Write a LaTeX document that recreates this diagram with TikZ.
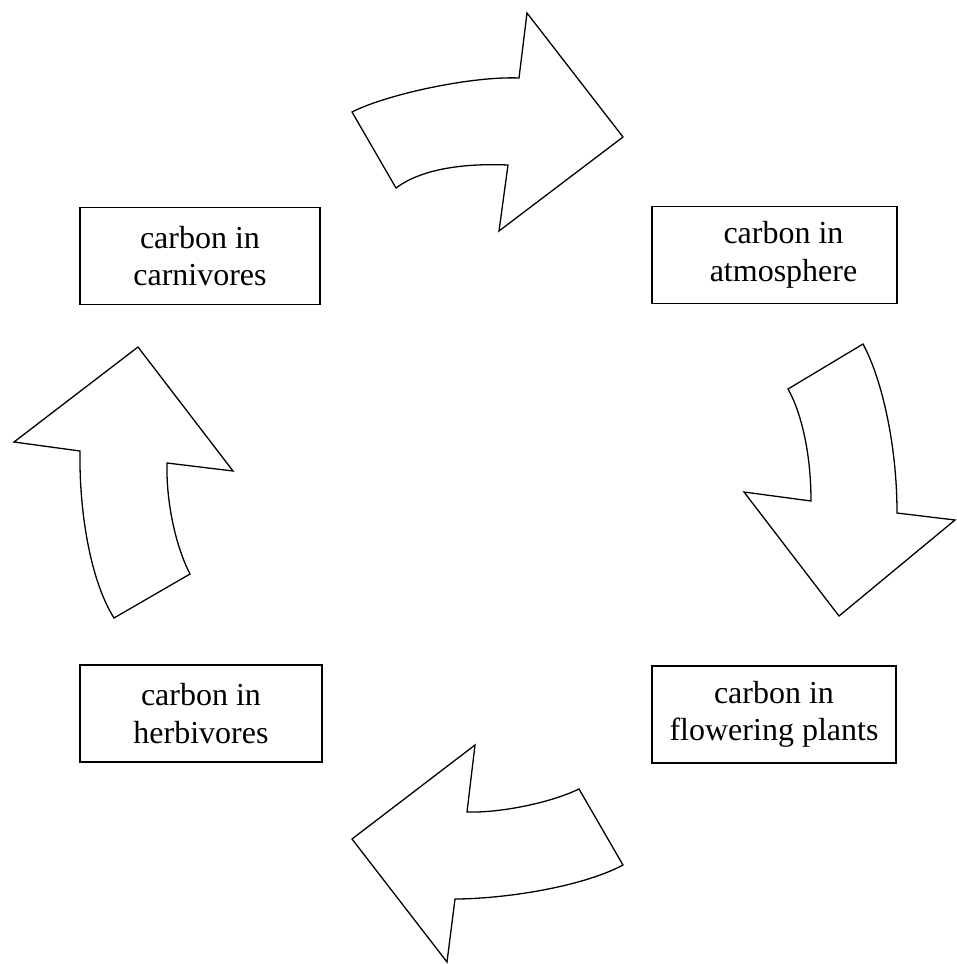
\documentclass[tikz,border=0pt]{standalone}
\usepackage{fontspec}
\setmainfont{Liberation Serif}
\begin{document}
\begin{tikzpicture}[x=1pt,y=-1pt,
  box/.style={draw, line width=1.4pt, minimum width=#1, minimum height=97pt, align=center, inner sep=0pt,
    font=\fontsize{32}{37.5}\selectfont},
  box/.default=242pt,
  blockarrow/.style={draw, line width=1.3pt, line join=miter, fill=white}]
\useasboundingbox (0,0) rectangle (956,964);
% boxes
\node[box=240pt] (carn) at (200,256) {carbon in\\carnivores};
\node[box=245pt] (atm) at (774.5,255) {\hspace*{18pt}carbon in\\\hspace*{18pt}atmosphere};
\node[box=242pt] (herb) at (201,713.5) {carbon in\\herbivores};
\node[box=244pt] (flow) at (774,714.5) {carbon in\\flowering plants};
% top arrow (carnivores -> atmosphere)
\draw[blockarrow] (352,112) .. controls (385,95) and (470,76) .. (519,78) -- (527,13) -- (623,137)
  -- (499,231) -- (508,165) .. controls (460,163) and (420,170) .. (396,188) -- cycle;
% right arrow (atmosphere -> flowering plants)
\draw[blockarrow] (863,344) .. controls (880,375) and (897,440) .. (897,513) -- (955,520) -- (839,616)
  -- (744,492) -- (811,501) .. controls (811,450) and (800,410) .. (788,389) -- cycle;
% bottom arrow (flowering plants -> herbivores)
\draw[blockarrow] (579,789) .. controls (550,803) and (500,813) .. (467,812) -- (475,745) -- (352,839)
  -- (447,962) -- (455,899) .. controls (500,899) and (580,888) .. (623,865) -- cycle;
% left arrow (herbivores -> carnivores)
\draw[blockarrow] (114,618) .. controls (90,580) and (79,510) .. (80,451) -- (14,442) -- (138,347)
  -- (233,471) -- (167,463) .. controls (166,500) and (175,545) .. (190,574) -- cycle;
\end{tikzpicture}
\end{document}
